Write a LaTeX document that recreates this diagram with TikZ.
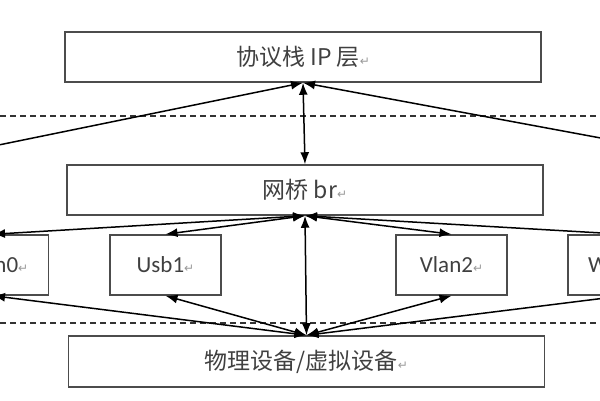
\documentclass[tikz,border=0pt]{standalone}
\usepackage{fontspec}
\setmainfont{Carlito}
\newfontfamily\cjk{Noto Sans CJK SC}
\newfontfamily\symfont{DejaVu Sans}
\usepackage{tikz}
\usetikzlibrary{arrows.meta,positioning}
\newcommand{\retmark}{{\symfont\color{black!40}\fontsize{12}{12}\selectfont ↵}}

\begin{document}
\begin{tikzpicture}[x=1pt,y=-1pt,>={Latex[length=12pt,width=9pt]},line width=1.5pt]
    \tikzstyle{box}=[draw=black!70,line width=1.5pt,rectangle,inner sep=0pt,text=black!75,font=\fontsize{23}{26}\selectfont]
    \tikzstyle{layer}=[box,minimum width=476pt,minimum height=50pt]
    \tikzstyle{iface}=[box,minimum width=111pt,minimum height=60pt]
    \tikzstyle{link}=[<->,draw=black]
    \tikzstyle{sep}=[draw=black!80,line width=1.4pt,dash pattern=on 6pt off 4pt]

\useasboundingbox (0,0) rectangle (600,400);
\clip (0,0) rectangle (600,400);

\node[layer] (ip) at (303,57) {\cjk 协议栈 IP 层\retmark};
\node[layer] (br) at (305,190) {\cjk 网桥 br\retmark};
\node[layer,minimum height=51pt] (phys) at (306.5,361.5) {\cjk 物理设备/虚拟设备\retmark};

\node[iface] (wlan0) at (-7,265) {Wlan0\retmark};
\node[iface] (usb1) at (165.5,265) {Usb1\retmark};
\node[iface] (vlan2) at (451.5,265) {Vlan2\retmark};
\node[iface] (wlan3) at (623.5,265) {Wlan3\retmark};

\coordinate (farL) at (-60,157);
\coordinate (farR) at (660,149);

\draw[sep] (0,116) -- (600,116);
\draw[sep] (0,323) -- (600,323);

\draw[->] (farL) -- (ip.south);
\draw[->] (farR) -- (ip.south);
\draw[link] (ip.south) -- (br.north);
\draw[link] (br.south) -- (phys.north);

\foreach \n in {wlan0,usb1,vlan2,wlan3}
{
    \draw (br.south) edge[link] (\n.north);
    \draw (phys.north) edge[link] (\n.south);
}
\end{tikzpicture}
\end{document}
